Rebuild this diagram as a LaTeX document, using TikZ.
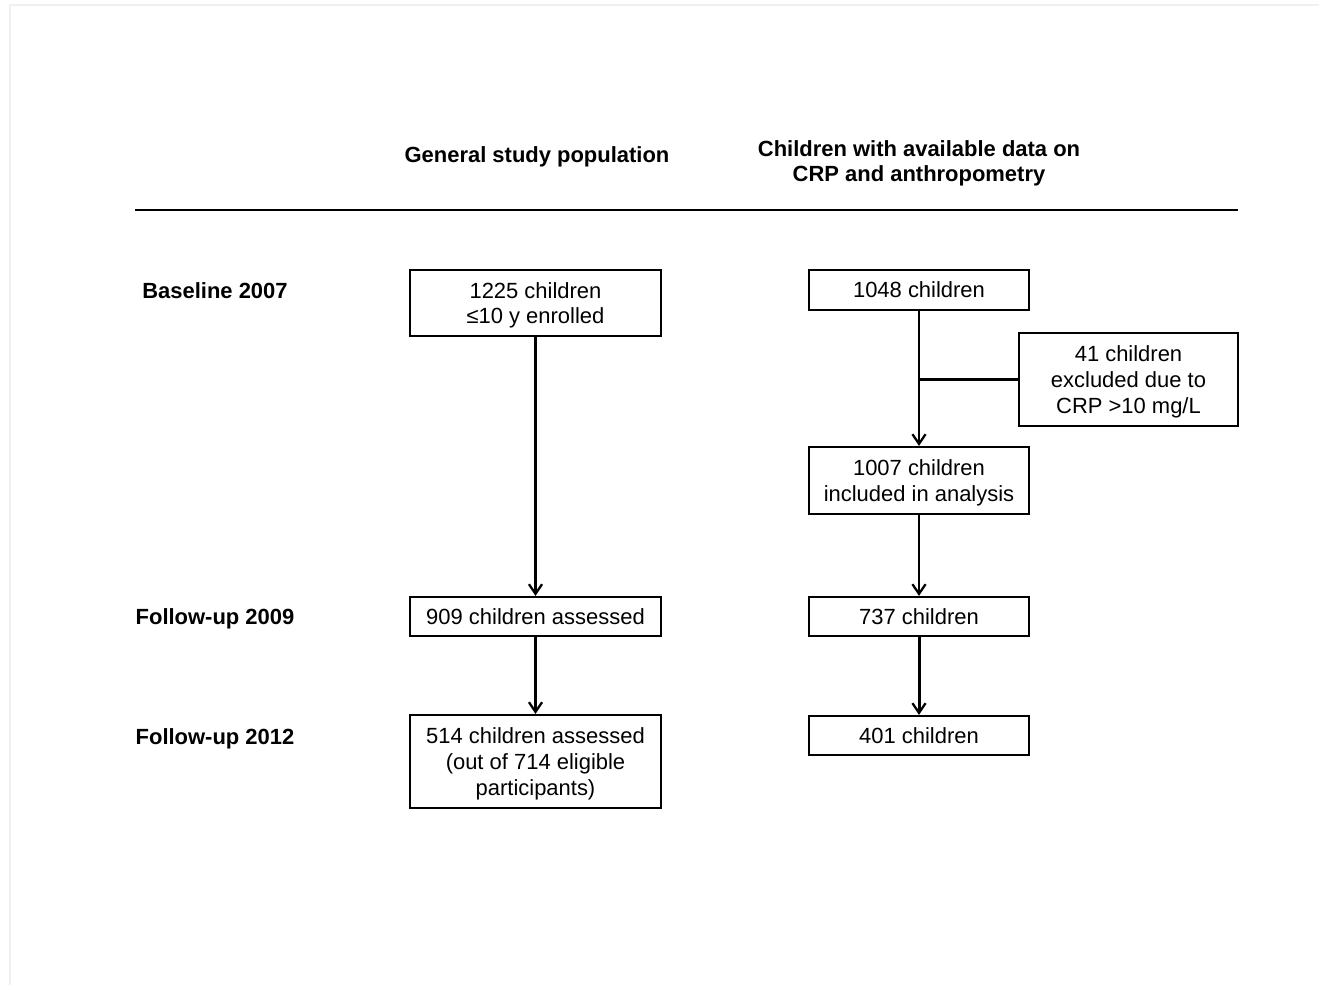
\documentclass[tikz,border=0pt]{standalone}
\usepackage{fontspec}
\setmainfont{Liberation Sans}
\usetikzlibrary{arrows.meta,positioning}

\begin{document}
\begin{tikzpicture}[x=0.02cm, y=-0.02cm,
        txt/.style={font=\fontsize{12.5}{14.6}\selectfont, text depth=0pt},
        head/.style={txt, font=\fontsize{12.5}{14.6}\selectfont\bfseries, align=center},
        box/.style={txt, draw, line width=1.3pt, align=center, inner sep=0pt},
        flow/.style={line width=1.3pt, -{Straight Barb[length=5.5pt,width=7.5pt,line width=1.3pt]}}]
        \useasboundingbox (0,0) rectangle (1319,985);
        % faint frame of the scan
        \draw[gray!12, line width=1pt] (10,985) -- (10,5) -- (1319,5);
        % column heads
        \node[head] (hgen) at (537,155) {General study population};
        \node[head] (hcrp) at (919,161) {Children with available data on\\CRP and anthropometry};
        \draw[line width=1.3pt] (135,210) -- (1238,210);
        % row labels
        \node[head] (lbase) at (215,291) {Baseline 2007};
        \node[head] (lfu9) at (215,617) {Follow-up 2009};
        \node[head] (lfu12) at (215,737) {Follow-up 2012};
        % general study population
        \node[box, minimum width=5.02cm, minimum height=1.32cm] (a1) at (535.5,303) {1225 children\\≤10 y enrolled};
        \node[box, minimum width=5.02cm, minimum height=0.78cm] (a2) at (535.5,616.5) {909 children assessed};
        \node[box, minimum width=5.02cm, minimum height=1.86cm] (a3) at (535.5,761.5) {514 children assessed\\(out of 714 eligible\\participants)};
        % children with CRP data
        \node[box, minimum width=4.4cm, minimum height=0.8cm] (b1) at (919,290) {1048 children};
        \node[box, minimum width=4.38cm, minimum height=1.86cm] (ex) at (1128.5,379.5) {41 children\\excluded due to\\CRP >10 mg/L};
        \node[box, minimum width=4.4cm, minimum height=1.34cm] (b2) at (919,480.5) {1007 children\\included in analysis};
        \node[box, minimum width=4.4cm, minimum height=0.78cm] (b3) at (919,616.5) {737 children};
        \node[box, minimum width=4.4cm, minimum height=0.78cm] (b4) at (919,735.5) {401 children};
        \coordinate (split) at (b1.south |- ex.west);
        \draw[flow] (a1) -- (a2);
        \draw[flow] (a2) -- (a3);
        \draw[flow] (b1) -- (b2);
        \draw[line width=1.3pt] (split) -- (ex.west);
        \draw[flow] (b2) -- (b3);
        \draw[flow, line width=1.7pt] (b3) -- (b4);
    \end{tikzpicture}
\end{document}
